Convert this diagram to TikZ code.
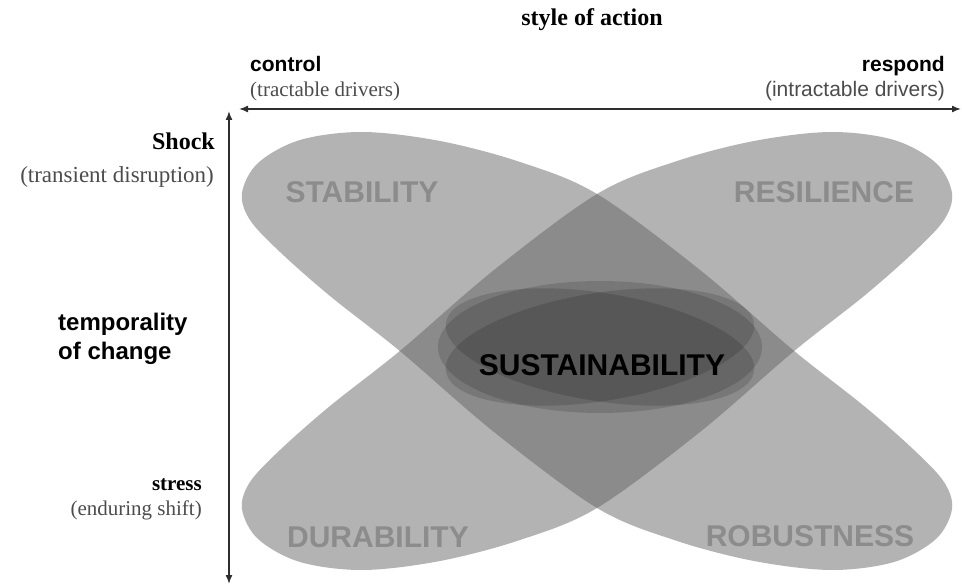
\documentclass[tikz,border=0pt]{standalone}
\usepackage{fontspec}
\setmainfont{Liberation Serif}
\setsansfont{Liberation Sans}
\usetikzlibrary{arrows.meta}
\definecolor{bandgray}{gray}{0.37}
\definecolor{fadedtext}{gray}{0.55}
\definecolor{axisgray}{gray}{0.18}
\definecolor{notegray}{gray}{0.3}

\begin{document}
\begin{tikzpicture}[x=1pt, y=-1pt, every node/.style={inner sep=0pt},
	band/.style={fill=bandgray, fill opacity=0.47},
	core/.style={fill=black, fill opacity=0.14},
	axis/.style={{Latex[length=9pt,width=7pt]}-{Latex[length=9pt,width=7pt]}, line width=1.6pt, draw=axisgray},
	quadrant/.style={font=\sffamily\bfseries\fontsize{30}{36}\selectfont, text=fadedtext},
	heading/.style={font=\sffamily\bfseries\fontsize{21}{25}\selectfont},
	serifhead/.style={font=\bfseries\fontsize{24}{28}\selectfont},
	note/.style={font=\fontsize{21}{25}\selectfont, text=notegray}]
			\path[use as bounding box, fill=white] (0,0) rectangle (962,585);
			
			\foreach \s/\d in {1/0,-1/1194}{
				\fill[band, xshift=\d pt, xscale=\s] plot[smooth cycle, tension=0.55] coordinates {
					(242,193) (258,163) (300,140) (363,132) (440,141) (520,162) (597,194)
					(700,270) (793,350) (864,406) (914,450) (944,482) (952,509)
					(936,539) (894,562) (831,570) (754,561) (674,540) (597,508)
					(494,432) (401,352) (330,296) (280,252) (250,220)};
			}
			
			\fill[core] (600,347) ellipse [x radius=162, y radius=66];
			\fill[core, rotate around={9:(600,347)}] (600,347) ellipse [x radius=156, y radius=54];
			\fill[core, rotate around={-9:(600,347)}] (600,347) ellipse [x radius=156, y radius=54];
			
			\coordinate (actL) at (239,109);
			\coordinate (actR) at (961,109);
			\coordinate (timeT) at (229,111);
			\coordinate (timeB) at (229,584);
			
			\path (actL) edge[axis] (actR);
			\path (timeT) edge[axis] (timeB);
			
			\node[serifhead, anchor=base] (actionTitle) at (592,26){style of action};
			\node[heading, anchor=base west] (ctrl) at (250,72){control};
			\node[note, anchor=base west] (ctrlNote) at (250,97){(tractable drivers)};
			\node[heading, anchor=base east] (resp) at (945,72){respond};
			\node[note, font=\sffamily\fontsize{21}{25}\selectfont, anchor=base east] (respNote) at (945,97){(intractable drivers)};
			
			\node[serifhead, anchor=base east] (shock) at (215,150){Shock};
			\node[note, font=\fontsize{23}{27}\selectfont, anchor=base east] (shockNote) at (214,183){(transient disruption)};
			\node[heading, font=\sffamily\bfseries\fontsize{24}{29}\selectfont, align=left, anchor=west] (temporality) at (58,339){temporality\\of change};
			\node[serifhead, font=\bfseries\fontsize{21}{25}\selectfont, anchor=base east] (stress) at (202,490){stress};
			\node[note, anchor=base east] (stressNote) at (202,515){(enduring shift)};
			
			\node[quadrant, anchor=base] (stab) at (362,203){STABILITY};
			\node[quadrant, anchor=base] (resil) at (824,203){RESILIENCE};
			\node[quadrant, anchor=base] (durab) at (378,547){DURABILITY};
			\node[quadrant, anchor=base] (robust) at (810,546){ROBUSTNESS};
			\node[quadrant, text=black, anchor=base] (sustain) at (602,376){SUSTAINABILITY};
\end{tikzpicture}
\end{document}
